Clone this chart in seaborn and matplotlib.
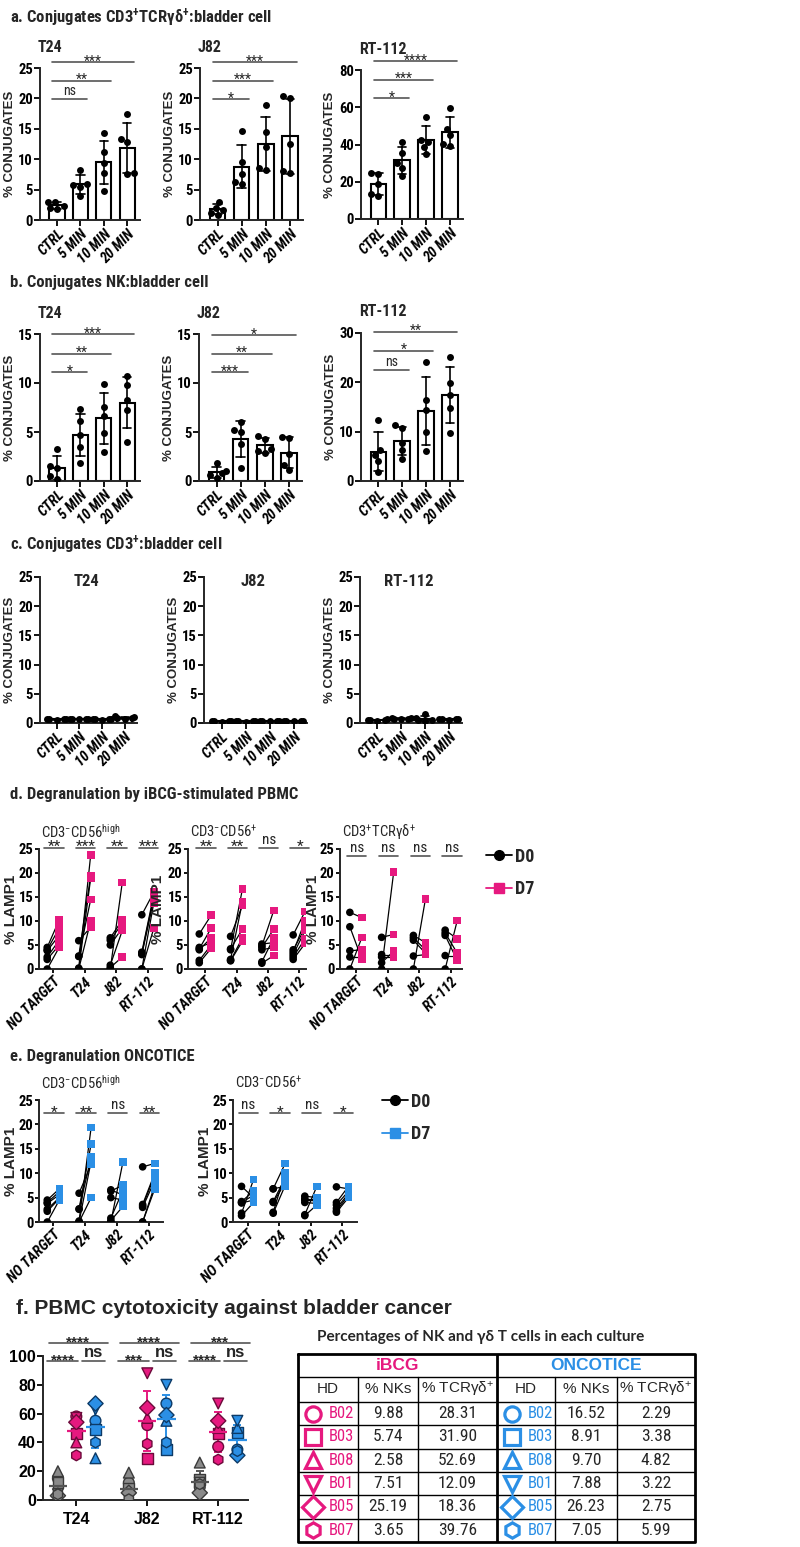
import numpy as np
import pandas as pd
import matplotlib
matplotlib.use("Agg")
import matplotlib.pyplot as plt
import seaborn as sns
from matplotlib.lines import Line2D

sns.set_theme(style="ticks")
NARROW = ["Roboto Condensed", "Liberation Sans Narrow", "DejaVu Sans"]
ARIAL = ["Liberation Sans", "DejaVu Sans"]
plt.rcParams["font.family"] = NARROW
plt.rcParams["mathtext.default"] = "regular"
plt.rcParams["axes.linewidth"] = 1.4

W, H = 800, 1547
PINK = "#E6197F"
BLUE = "#2B8FE5"
GREY = "#8A8A8A"
SIGC = "#555555"

# ---------------- data ----------------
times = ["CTRL", "5 MIN", "10 MIN", "20 MIN"]
targets = ["NO TARGET", "T24", "J82", "RT-112"]

# a. conjugates CD3+TCRgd+ : bladder cell (5 donors per time point)
gd_T24 = [[3.0, 2.9, 2.3, 2.0, 1.8], [8.3, 6.0, 5.7, 5.5, 3.9],
          [14.3, 11.2, 9.3, 7.7, 4.8], [17.4, 13.4, 12.8, 7.8, 7.6]]
gd_J82 = [[3.0, 2.0, 1.6, 1.2, 0.9], [14.6, 9.5, 7.5, 6.3, 6.0],
          [18.9, 14.5, 12.0, 8.5, 8.3], [20.4, 20.0, 12.5, 8.0, 7.8]]
gd_RT112 = [[24.9, 24.2, 19.0, 13.6, 12.5], [41.6, 35.3, 30.0, 27.3, 23.0],
            [54.5, 42.5, 41.5, 38.5, 35.0], [59.6, 48.5, 45.0, 40.5, 39.0]]

# b. conjugates NK : bladder cell
nk_T24 = [[3.3, 1.5, 1.3, 0.5, 0.2], [7.3, 6.1, 4.7, 3.5, 1.8],
          [9.9, 7.6, 6.6, 4.9, 3.0], [10.7, 9.8, 8.3, 7.2, 4.0]]
nk_J82 = [[1.8, 1.0, 0.8, 0.6, 0.3], [6.0, 5.2, 5.0, 3.8, 1.3],
          [4.6, 4.3, 3.3, 3.1, 2.9], [4.5, 4.4, 2.8, 1.6, 1.1]]
nk_RT112 = [[12.3, 6.2, 5.2, 4.0, 1.8], [11.3, 10.8, 7.8, 6.2, 4.5],
            [24.2, 16.5, 14.3, 10.0, 6.0], [25.2, 19.9, 17.5, 14.8, 9.8]]

# c. conjugates CD3+ : bladder cell
t_T24 = [[0.7, 0.6, 0.6, 0.5, 0.7], [0.7, 0.7, 0.6, 0.6, 0.7],
         [0.7, 0.6, 0.5, 0.7, 0.6], [1.2, 1.0, 0.9, 0.7, 0.8]]
t_J82 = [[0.4, 0.3, 0.3, 0.2, 0.3], [0.3, 0.3, 0.2, 0.3, 0.3],
         [0.4, 0.4, 0.3, 0.3, 0.4], [0.3, 0.3, 0.4, 0.3, 0.3]]
t_RT112 = [[0.6, 0.5, 0.5, 0.4, 0.5], [0.9, 0.7, 0.7, 0.6, 0.8],
           [1.6, 0.8, 0.5, 0.4, 0.5], [0.7, 0.6, 0.6, 0.5, 0.6]]

# significance (label, y) for CTRL vs 5/10/20 MIN
sig_a = {"T24": [("ns", 19.9), ("**", 22.9), ("***", 26.0)],
         "J82": [("*", 19.9), ("***", 22.9), ("***", 26.0)],
         "RT-112": [("*", 65.0), ("***", 74.8), ("****", 84.7)]}
sig_b = {"T24": [("*", 11.1), ("**", 13.0), ("***", 14.95)],
         "J82": [("***", 11.1), ("**", 13.0), ("*", 14.9)],
         "RT-112": [("ns", 22.6), ("*", 26.4), ("**", 30.3)]}

# d. degranulation iBCG (%LAMP1, D0 vs D7)
d_high_D0 = [[4.5, 4.0, 3.8, 2.5, 2.0, 0.0], [5.9, 2.7, 2.6, 0.2, 0.0, 0.0],
             [6.5, 6.0, 5.0, 0.8, 0.3, 0.0], [11.3, 3.5, 3.2, 3.0, 0.0, 0.0]]
d_high_D7 = [[10.2, 8.5, 7.0, 6.0, 5.0, 4.5], [8.7, 19.5, 14.5, 23.8, 19.0, 10.0],
             [10.2, 9.5, 8.5, 8.0, 2.5, 18.0], [16.0, 15.5, 15.0, 14.5, 8.5, 13.8]]
d_pos_D0 = [[7.3, 4.5, 4.2, 4.0, 1.8, 1.3], [6.8, 4.2, 4.0, 2.0, 1.8, 1.7],
            [5.2, 4.8, 4.5, 4.0, 1.5, 1.2], [7.1, 4.0, 3.5, 3.0, 2.5, 2.0]]
d_pos_D7 = [[11.2, 5.5, 8.5, 6.5, 5.0, 4.3], [13.3, 8.3, 16.7, 14.0, 6.5, 5.8],
            [5.5, 12.2, 8.3, 4.5, 6.5, 2.8], [12.0, 8.5, 10.0, 8.0, 6.3, 5.3]]
d_gd_D0 = [[11.8, 8.8, 3.8, 2.5, 0.0], [6.6, 3.0, 2.5, 1.3, 0.0],
           [7.0, 6.5, 6.0, 2.7, 0.0], [8.1, 7.5, 7.0, 2.8, 0.0]]
d_gd_D7 = [[10.7, 2.0, 4.0, 2.5, 6.6], [7.2, 3.0, 2.5, 3.7, 20.2],
           [5.5, 4.0, 3.3, 3.0, 14.6], [6.3, 3.3, 1.8, 2.8, 10.1]]
sig_d_high = ["**", "***", "**", "***"]
sig_d_pos = ["**", "**", "ns", "*"]
sig_d_gd = ["ns", "ns", "ns", "ns"]

# e. degranulation ONCOTICE
e_high_D0 = [[4.5, 4.0, 3.8, 2.6, 2.2, 0.0], [5.9, 2.7, 2.6, 0.2, 0.0, 0.0],
             [6.6, 6.3, 5.0, 0.8, 0.3, 0.0], [11.3, 3.6, 3.3, 3.0, 0.0, 0.0]]
e_high_D7 = [[6.8, 6.2, 5.6, 5.0, 4.8, 4.5], [11.8, 16.0, 13.3, 19.4, 12.5, 5.0],
             [5.5, 7.6, 4.5, 6.5, 3.2, 12.3], [12.0, 10.0, 9.5, 8.5, 6.8, 7.5]]
e_pos_D0 = [[7.3, 4.2, 4.0, 3.9, 1.8, 1.3], [6.8, 6.8, 4.2, 4.0, 2.0, 1.8],
            [5.3, 4.8, 4.5, 4.0, 1.5, 1.3], [7.2, 4.0, 3.5, 2.8, 2.3, 2.0]]
e_pos_D7 = [[5.0, 6.3, 5.5, 4.5, 8.7, 4.0], [7.3, 12.0, 9.0, 8.0, 10.0, 7.5],
            [5.0, 4.8, 4.3, 3.8, 7.3, 3.5], [6.8, 7.3, 6.3, 5.8, 5.5, 5.0]]
sig_e_high = ["*", "**", "ns", "**"]
sig_e_pos = ["ns", "*", "ns", "*"]

# f. PBMC cytotoxicity (donors B02, B03, B08, B01, B05, B07)
donors = ["B02", "B03", "B08", "B01", "B05", "B07"]
donor_markers = ["o", "s", "^", "v", "D", "h"]
f_lines = ["T24", "J82", "RT-112"]
f_ctrl = [[15, 12, 20, 4, 3, 4], [12, 8, 19, 3, 5, 0.5], [9, 14, 26, 12, 5, 11]]
f_ibcg = [[58, 46, 40, 57, 54, 31], [52, 29, 57, 88, 64, 39], [37, 46, 50, 67, 55, 28]]
f_onco = [[55, 49, 29, 63, 67, 40], [67, 35, 55, 80, 59, 40], [35, 47, 50, 55, 31, 34]]
f_sig_long = ["****", "****", "***"]
f_sig_ctrl_ibcg = ["****", "***", "****"]
f_sig_ibcg_onco = ["ns", "ns", "ns"]

# table
tab_ibcg_nk = ["9.88", "5.74", "2.58", "7.51", "25.19", "3.65"]
tab_ibcg_gd = ["28.31", "31.90", "52.69", "12.09", "18.36", "39.76"]
tab_onco_nk = ["16.52", "8.91", "9.70", "7.88", "26.23", "7.05"]
tab_onco_gd = ["2.29", "3.38", "4.82", "3.22", "2.75", "5.99"]


# ---------------- helpers ----------------
def px_axes(fig, left, top, right, bottom):
    return fig.add_axes([left / W, 1 - bottom / H, (right - left) / W, (bottom - top) / H])


def style_axes(ax, ylabel, ylabel_size=9.5, ytick_size=10.5, labelpad=2, tick_len=4):
    sns.despine(ax=ax)
    ax.tick_params(axis="both", direction="out", length=tick_len, width=1.3,
                   colors="black", pad=1)
    ax.tick_params(axis="y", labelsize=ytick_size)
    for lab in ax.get_yticklabels():
        lab.set_fontweight("bold")
    ax.set_ylabel(ylabel, fontsize=ylabel_size, fontweight="bold",
                  family=ARIAL, labelpad=labelpad)
    ax.set_xlabel("")
    ax.set_facecolor("none")


def rotated_xticks(ax, labels, size=10.5):
    ax.set_xticks(range(len(labels)))
    ax.set_xticklabels(labels, rotation=45, ha="right", rotation_mode="anchor",
                       fontsize=size, fontweight="bold", fontstyle="italic")


def sig_text(ax, x, y, lab, star_size=10, ns_size=10, **kw):
    # asterisks sit just above the line, "ns" a bit higher
    if lab == "ns":
        ax.annotate(lab, xy=(x, y), xytext=(0, 0.5), textcoords="offset points",
                    ha="center", va="bottom", fontsize=ns_size, annotation_clip=False, **kw)
    else:
        ax.annotate(lab, xy=(x, y), xytext=(0, -2.5), textcoords="offset points",
                    ha="center", va="baseline", fontsize=star_size,
                    annotation_clip=False, **kw)


def bar_panel(fig, box, values, ymax, yticks, title, sig=None, title_inside=False):
    ax = px_axes(fig, *box)
    df = pd.DataFrame([(t, v) for t, vals in zip(times, values) for v in vals],
                      columns=["time", "pct"])
    sns.barplot(data=df, x="time", y="pct", errorbar="sd", color="white",
                edgecolor="black", linewidth=1.5, width=0.65, capsize=0.35,
                err_kws={"color": "black", "linewidth": 1.2}, ax=ax)
    sns.swarmplot(data=df, x="time", y="pct", color="black", size=5, ax=ax)
    ax.set_ylim(0, ymax)
    ax.set_yticks(yticks)
    ax.set_xlim(-0.73, 3.55)
    style_axes(ax, "% CONJUGATES")
    rotated_xticks(ax, times)
    if title_inside:
        ax.text(0.48, 0.97, title, transform=ax.transAxes, ha="center", va="center",
                fontsize=12, fontweight="bold")
    else:
        ax.text(-0.02, 1.0 + 21 / (box[3] - box[1]), title, transform=ax.transAxes,
                ha="left", va="center", fontsize=11.5, fontweight="bold")
    if sig:
        for k, (lab, y) in enumerate(sig, start=1):
            x0, x1 = -0.2, k + 0.3
            ax.plot([x0, x1], [y, y], color=SIGC, lw=1.2, clip_on=False)
            sig_text(ax, (x0 + x1) / 2, y, lab, star_size=10, ns_size=10)
    return ax


def paired_panel(fig, box, d0, d7, color, xlim, sig, sig_y, subtitle, label_x):
    ax = px_axes(fig, *box)
    rows = []
    for i, tgt in enumerate(targets):
        for j, (a, b) in enumerate(zip(d0[i], d7[i])):
            rows.append((i, i * 10 + j, "D0", a, i - 0.19))
            rows.append((i, i * 10 + j, "D7", b, i + 0.19))
    df = pd.DataFrame(rows, columns=["idx", "pair", "day", "pct", "x"])
    sns.lineplot(data=df, x="x", y="pct", units="pair", estimator=None,
                 color="black", lw=0.9, ax=ax)
    sns.scatterplot(data=df, x="x", y="pct", hue="day", style="day",
                    markers={"D0": "o", "D7": "s"},
                    palette={"D0": "black", "D7": color}, s=30, linewidth=0,
                    legend=False, zorder=3, ax=ax)
    ax.set_xlim(*xlim)
    ax.set_ylim(0, 25)
    ax.set_yticks([0, 5, 10, 15, 20, 25])
    style_axes(ax, "% LAMP1", ylabel_size=11, ytick_size=10.5, tick_len=3)
    ax.yaxis.set_label_coords((label_x - box[0]) / (box[2] - box[0]), 0.5)
    rotated_xticks(ax, targets, size=10.5)
    for i, lab in enumerate(sig):
        ax.plot([i - 0.28, i + 0.33], [sig_y, sig_y], color=SIGC, lw=1.2,
                clip_on=False)
        sig_text(ax, i + 0.03, sig_y, lab, star_size=11, ns_size=11)
    ax.text(0.02, 1.0 + 17 / (box[3] - box[1]), subtitle, transform=ax.transAxes,
            ha="left", va="center", fontsize=10.5)
    return ax


def day_legend(fig, color, x, y):
    handles = [Line2D([0], [0], color="black", marker="o", ms=7, lw=1.3),
               Line2D([0], [0], color=color, marker="s", ms=7, lw=1.3)]
    return fig.legend(handles, ["D0", "D7"], loc="center left",
                      bbox_to_anchor=(x / W, 1 - y / H), frameon=False,
                      handlelength=1.4, handletextpad=0.2, labelspacing=0.8,
                      prop={"size": 13, "weight": "bold", "family": NARROW})


def cytotox_panel(fig):
    ax = px_axes(fig, 43, 1356, 248, 1500)
    conds = [("D0", f_ctrl, GREY, "#3a3a3a", -0.26),
             ("iBCG", f_ibcg, PINK, "#6b0a3a", 0.0),
             ("ONCOTICE", f_onco, BLUE, "#0d3a66", 0.27)]
    for cond, vals, fc, ec, off in conds:
        rows = []
        for i, line in enumerate(f_lines):
            for d, v in zip(donors, vals[i]):
                rows.append((line, i + off, d, v))
        df = pd.DataFrame(rows, columns=["line", "x", "donor", "pct"])
        sns.scatterplot(data=df, x="x", y="pct", style="donor",
                        markers=dict(zip(donors, donor_markers)), color=fc,
                        edgecolor=ec, linewidth=1.0, s=60, legend=False,
                        zorder=3, ax=ax)
        stats = df.groupby("x")["pct"].agg(["mean", "std"]).reset_index()
        err_c = "#555555" if cond == "D0" else fc
        ax.errorbar(stats["x"], stats["mean"], yerr=stats["std"], fmt="none",
                    ecolor=err_c, elinewidth=1.4, capsize=3, capthick=1.4, zorder=2)
        ax.hlines(stats["mean"], stats["x"] - 0.13, stats["x"] + 0.13,
                  color=err_c, lw=1.6, zorder=4)
    ax.set_xlim(-0.47, 2.42)
    ax.set_ylim(0, 100)
    ax.set_yticks([0, 20, 40, 60, 80, 100])
    style_axes(ax, "", ytick_size=11.5)
    for lab in ax.get_yticklabels():
        lab.set_family(ARIAL)
    ax.set_xticks(range(3))
    ax.set_xticklabels(f_lines, fontsize=11.5, fontweight="bold", family=ARIAL)
    ax.tick_params(axis="x", pad=5)
    kw = dict(fontweight="bold", family=ARIAL)
    for i in range(3):
        ax.plot([i - 0.39, i + 0.45], [109, 109], color=SIGC, lw=1.2, clip_on=False)
        sig_text(ax, i + 0.03, 109, f_sig_long[i], star_size=11, **kw)
        ax.plot([i - 0.41, i + 0.03], [96.5, 96.5], color=SIGC, lw=1.2, clip_on=False)
        sig_text(ax, i - 0.19, 96.5, f_sig_ctrl_ibcg[i], star_size=11, **kw)
        ax.plot([i + 0.08, i + 0.41], [96.5, 96.5], color=SIGC, lw=1.2, clip_on=False)
        sig_text(ax, i + 0.245, 96.5, f_sig_ibcg_onco[i], ns_size=12, **kw)


def draw_table(fig):
    ax = px_axes(fig, 298, 1354, 695, 1542)
    ax.set_xlim(298, 695)
    ax.set_ylim(1542, 1354)
    ax.axis("off")
    cols = [298, 358, 418, 497, 555, 617, 695]
    rows_y = [1354, 1377, 1402] + [1402 + 23.33 * (k + 1) for k in range(6)]
    for y in rows_y[1:-1]:
        ax.plot([cols[0], cols[-1]], [y, y], color="black", lw=1.0)
    for x in cols[1:-1]:
        y0 = rows_y[0] if x == cols[3] else rows_y[1]
        ax.plot([x, x], [y0, rows_y[-1]], color="black", lw=2.0 if x == cols[3] else 1.0)
    ax.plot([cols[0], cols[-1], cols[-1], cols[0], cols[0]],
            [rows_y[0], rows_y[0], rows_y[-1], rows_y[-1], rows_y[0]],
            color="black", lw=2.0, clip_on=False)
    akw = dict(family=ARIAL, ha="center", va="center")
    ymid = (rows_y[0] + rows_y[1]) / 2
    ax.text((cols[0] + cols[3]) / 2, ymid, "iBCG", color=PINK, fontsize=12.5,
            fontweight="bold", **akw)
    ax.text((cols[3] + cols[6]) / 2, ymid, "ONCOTICE", color=BLUE, fontsize=12.5,
            fontweight="bold", **akw)
    heads = ["HD", "% NKs", "% TCRγδ$^{+}$"] * 2
    ymid = (rows_y[1] + rows_y[2]) / 2
    for c in range(6):
        ax.text((cols[c] + cols[c + 1]) / 2, ymid, heads[c], fontsize=11, **akw)
    for r in range(6):
        ymid = (rows_y[r + 2] + rows_y[r + 3]) / 2
        for half, color, nk, gd in [(0, PINK, tab_ibcg_nk, tab_ibcg_gd),
                                    (3, BLUE, tab_onco_nk, tab_onco_gd)]:
            c0 = cols[half]
            ax.plot(c0 + 15, ymid, marker=donor_markers[r], mfc="none", mec=color,
                    mew=2.3, ms=11)
            ax.text(c0 + 31, ymid, donors[r], color=color, ha="left", va="center",
                    fontsize=12)
            ax.text((cols[half + 1] + cols[half + 2]) / 2, ymid, nk[r], ha="center",
                    va="center", fontsize=12.5)
            ax.text((cols[half + 2] + cols[half + 3]) / 2, ymid, gd[r], ha="center",
                    va="center", fontsize=12.5)
    fig.text(481 / W, 1 - 1337 / H, "Percentages of NK and γδ T cells in each culture",
             ha="center", va="center", fontsize=11, fontweight="bold",
             family=["Lato", "DejaVu Sans"])


# ---------------- figure ----------------
fig = plt.figure(figsize=(W / 100, H / 100), dpi=100)


def panel_title(text, y, x=10, family=None, size=12):
    fig.text(x / W, 1 - y / H, text, ha="left", va="center", fontsize=size,
             fontweight="bold", family=family or NARROW)


panel_title("a. Conjugates CD3$^{+}$TCRγδ$^{+}$:bladder cell", 18)
panel_title("b. Conjugates NK:bladder cell", 283)
panel_title("c. Conjugates CD3$^{+}$:bladder cell", 545)
panel_title("d. Degranulation by iBCG-stimulated PBMC", 795)
panel_title("e. Degranulation ONCOTICE", 1057)
panel_title("f. PBMC cytotoxicity against bladder cancer", 1308, x=16, family=ARIAL,
            size=15)

# a
bar_panel(fig, (40, 68, 140, 220), gd_T24, 25, range(0, 26, 5), "T24", sig_a["T24"])
bar_panel(fig, (200, 68, 303, 220), gd_J82, 25, range(0, 26, 5), "J82", sig_a["J82"])
bar_panel(fig, (361, 70, 463, 219), gd_RT112, 80, range(0, 81, 20), "RT-112", sig_a["RT-112"])
# b
bar_panel(fig, (40, 334, 140, 481), nk_T24, 15, range(0, 16, 5), "T24", sig_b["T24"])
bar_panel(fig, (199, 334, 302, 481), nk_J82, 15, range(0, 16, 5), "J82", sig_b["J82"])
bar_panel(fig, (361, 333, 463, 481), nk_RT112, 30, range(0, 31, 10), "RT-112", sig_b["RT-112"])
# c
bar_panel(fig, (40, 577, 137, 723), t_T24, 25, range(0, 26, 5), "T24", title_inside=True)
bar_panel(fig, (204, 577, 307, 723), t_J82, 25, range(0, 26, 5), "J82", title_inside=True)
bar_panel(fig, (360, 577, 462, 723), t_RT112, 25, range(0, 26, 5), "RT-112", title_inside=True)

# d
paired_panel(fig, (39, 849, 162, 969), d_high_D0, d_high_D7, PINK, (-0.45, 3.45),
             sig_d_high, 25.3, "CD3$^{-}$CD56$^{high}$", 18)
paired_panel(fig, (188, 849, 306, 969), d_pos_D0, d_pos_D7, PINK, (-0.55, 3.22),
             sig_d_pos, 25.3, "CD3$^{-}$CD56$^{+}$", 165)
paired_panel(fig, (340, 849, 462, 969), d_gd_D0, d_gd_D7, PINK, (-0.5, 3.34),
             sig_d_gd, 23.6, "CD3$^{+}$TCRγδ$^{+}$", 320)
day_legend(fig, PINK, 470, 873)

# e
paired_panel(fig, (39, 1100, 163, 1222), e_high_D0, e_high_D7, BLUE, (-0.45, 3.45),
             sig_e_high, 22.3, "CD3$^{-}$CD56$^{high}$", 18)
paired_panel(fig, (233, 1100, 357, 1222), e_pos_D0, e_pos_D7, BLUE, (-0.46, 3.46),
             sig_e_pos, 22.3, "CD3$^{-}$CD56$^{+}$", 212)
day_legend(fig, BLUE, 366, 1118)

# f
cytotox_panel(fig)
draw_table(fig)

fig.savefig("out.png", dpi=100, facecolor="white")
